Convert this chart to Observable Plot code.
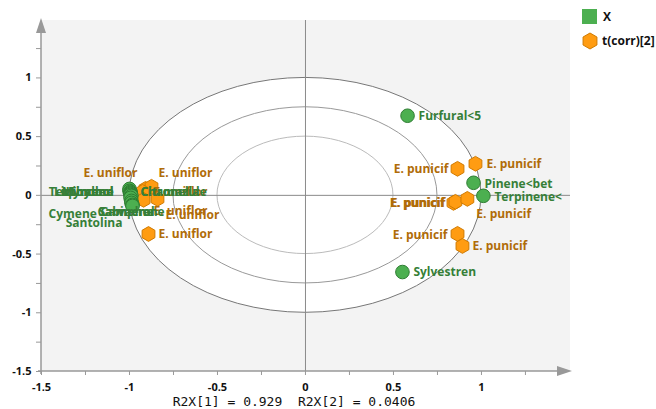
<!DOCTYPE html>
<html><head><meta charset="utf-8">
<script src="https://cdn.jsdelivr.net/npm/d3@7"></script>
<script src="https://cdn.jsdelivr.net/npm/@observablehq/plot@0.6"></script>
<style>
body{margin:0;background:#fff;}
#wrap{width:656px;height:409px;}
</style></head><body><div id="wrap"></div>
<script>
// ---------- data ----------
const varNames = ["Furfural<5","Pinene<bet","Terpinene<","Sylvestren",
  "Myrcene","Limonene","Linalool","Terpinolen","Thymol",
  "Citronella","Chamazule","Cymene","Carvacrol","Camphene","Sabinene","Santolina"];
const varX = [0.580,0.955,1.011,0.551,
  -1.000,-1.000,-0.994,-0.994,-0.994,
  -0.994,-0.989,-0.994,-0.989,-0.989,-0.983,-0.983];
const varY = [0.678,0.107,-0.004,-0.653,
  0.055,0.038,0.030,0.021,0.013,
  0.004,-0.004,-0.021,-0.047,-0.064,-0.081,-0.090];

const obsNames = ["E. uniflor","E. uniflor","E. uniflor","E. uniflor","E. uniflor","E. uniflor",
  "E. punicif","E. punicif","E. punicif","E. punicif","E. punicif","E. punicif","E. punicif"];
const obsX = [-0.909,-0.875,-0.926,-0.841,-0.920,-0.892,
  0.864,0.966,0.841,0.852,0.920,0.864,0.892];
const obsY = [0.055,0.073,0.030,-0.030,-0.038,-0.329,
  0.226,0.269,-0.064,-0.055,-0.030,-0.328,-0.431];

const xTicks = [-1.5,-1,-0.5,0,0.5,1];
const yTicks = [-1.5,-1,-0.5,0,0.5,1];
const xMinorTicks = [-1.25,-0.75,-0.25,0.25,0.75,1.25];
const yMinorTicks = [-1.25,-0.75,-0.25,0.25,0.75,1.25];
const ellipseRadii = [1, 0.75, 0.5];
const axisTitle = "R2X[1] = 0.929  R2X[2] = 0.0406";
const legendLabels = ["X","t(corr)[2]"];

// ---------- label placement (pixel offsets, anchor) ----------
const varLabelPlace = [[11,0,"start"],[11,1,"start"],[11,1,"start"],[11,0,"start"],
  [-16,3,"end"],[-16,1,"end"],[-17,0,"end"],[-17,-1,"end"],[-17,-2,"end"],
  [10,-3,"start"],[9,-4,"start"],[-82,16,"start"],[-34,11,"start"],[-31,9,"start"],[-34,7,"start"],[-10,17,"end"]];
const obsLabelPlace = [[-8,-16,"end"],[7,-14,"start"],[11,0,"start"],[8,16,"start"],[10,11,"start"],[10,0,"start"],
  [-9,0,"end"],[11,0,"start"],[-9,0,"end"],[-10,1,"end"],[9,15,"start"],[-10,1,"end"],[10,0,"start"]];

// ---------- style ----------
const FONT = "'Open Sans', 'Noto Sans', sans-serif";
const GREEN_FILL = "#4caf50", GREEN_STROKE = "#2e7d32", GREEN_TEXT = "#367f38";
const ORANGE_FILL = "#ff9c12", ORANGE_STROKE = "#d07a00", ORANGE_TEXT = "#b06c08";

function backdrop(index, scales, values, dims) {
  const {x, y} = scales;
  const L = dims.marginLeft, R = dims.width - dims.marginRight, T = dims.marginTop, B = dims.height - dims.marginBottom;
  const g = d3.create("svg:g");
  g.append("rect").attr("x", L).attr("y", T).attr("width", R - L).attr("height", B - T).attr("fill", "#f3f3f3");
  const strokes = ["#777", "#999", "#bbb"];
  ellipseRadii.forEach((r, i) => {
    g.append("ellipse").attr("cx", x(0)).attr("cy", y(0))
      .attr("rx", x(r) - x(0)).attr("ry", y(0) - y(r))
      .attr("fill", i === 0 ? "#fff" : "none").attr("stroke", strokes[i]).attr("stroke-width", 1);
  });
  return g.node();
}

function axisLines(index, scales, values, dims) {
  const L = dims.marginLeft, R = dims.width - dims.marginRight, T = dims.marginTop, B = dims.height - dims.marginBottom;
  const g = d3.create("svg:g").attr("fill", "#999").attr("stroke", "#999");
  g.append("line").attr("x1", L).attr("x2", L).attr("y1", B + 3).attr("y2", T + 10).attr("stroke-width", 1.5);
  g.append("line").attr("x1", L - 3).attr("x2", R - 10).attr("y1", B).attr("y2", B).attr("stroke-width", 1.5);
  g.append("path").attr("stroke", "none").attr("d", `M${L},${T - 2}L${L + 5},${T + 13}L${L - 5},${T + 13}Z`);
  g.append("path").attr("stroke", "none").attr("d", `M${R + 2},${B}L${R - 13},${B - 5}L${R - 13},${B + 5}Z`);
  return g.node();
}

function legend(index, scales, values, dims) {
  const lx = dims.width - dims.marginRight + 12;
  const g = d3.create("svg:g").attr("font-family", FONT).attr("font-weight", "bold").attr("font-size", 12)
    .attr("fill", "#111").attr("text-anchor", "start");
  g.append("rect").attr("x", lx).attr("y", 9).attr("width", 15).attr("height", 15).attr("fill", GREEN_FILL);
  g.append("text").attr("x", lx + 21).attr("y", 17).attr("dy", "0.35em").text(legendLabels[0]);
  const cx = lx + 8, cy = 41, r = 8, h = r * Math.sqrt(3) / 2;
  g.append("path").attr("d", `M${cx},${cy - r}L${cx + h},${cy - r / 2}L${cx + h},${cy + r / 2}L${cx},${cy + r}L${cx - h},${cy + r / 2}L${cx - h},${cy - r / 2}Z`)
    .attr("fill", ORANGE_FILL).attr("stroke", ORANGE_STROKE);
  g.append("text").attr("x", lx + 20).attr("y", cy).attr("dy", "0.35em").text(legendLabels[1]);
  return g.node();
}

const varIdx = varNames.map((_, i) => i);
const obsIdx = obsNames.map((_, i) => i);

const textCommon = {fontFamily: FONT, fontSize: 12, fontWeight: "bold"};
const obsLabelMarks = obsIdx.map(i => Plot.text([i], {
  x: d => obsX[d], y: d => obsY[d], text: d => obsNames[d],
  dx: obsLabelPlace[i][0], dy: obsLabelPlace[i][1], textAnchor: obsLabelPlace[i][2],
  fill: ORANGE_TEXT, ...textCommon
}));
const varLabelMarks = varIdx.map(i => Plot.text([i], {
  x: d => varX[d], y: d => varY[d], text: d => varNames[d],
  dx: varLabelPlace[i][0], dy: varLabelPlace[i][1], textAnchor: varLabelPlace[i][2],
  fill: GREEN_TEXT, ...textCommon
}));

const plot = Plot.plot({
  width: 656, height: 409,
  marginLeft: 41, marginRight: 86, marginTop: 20, marginBottom: 38,
  x: {domain: [-1.5, 1.506], label: null},
  y: {domain: [-1.5, 1.489], label: null},
  style: {background: "#fff", overflow: "visible", fontFamily: FONT},
  marks: [
    backdrop,
    Plot.ruleX([0], {stroke: "#8a8a8a"}),
    Plot.ruleY([0], {stroke: "#8a8a8a"}),
    axisLines,
    Plot.axisX(xMinorTicks.concat(xTicks), {tickSize: 4, tickFormat: () => "", color: "#999", label: null}),
    Plot.axisY(yMinorTicks.concat(yTicks), {tickSize: 5, tickFormat: () => "", color: "#999", label: null}),
    Plot.axisX(xTicks, {tickSize: 0, tickPadding: 12, tickFormat: d => String(d), color: "#111", fontSize: 11, fontWeight: "bold", label: null}),
    Plot.axisY(yTicks, {tickSize: 0, tickPadding: 10, tickFormat: d => String(d), color: "#111", fontSize: 11, fontWeight: "bold", label: null}),
    Plot.dot(obsIdx, {x: i => obsX[i], y: i => obsY[i], symbol: "hexagon", r: 6.4, fill: ORANGE_FILL, stroke: ORANGE_STROKE, strokeWidth: 1}),
    Plot.dot(varIdx, {x: i => varX[i], y: i => varY[i], r: 6.8, fill: GREEN_FILL, stroke: GREEN_STROKE, strokeWidth: 1}),
    ...obsLabelMarks,
    ...varLabelMarks,
    Plot.text([axisTitle], {frameAnchor: "bottom", dx: -12, dy: 30, fontFamily: "'DejaVu Sans Mono', monospace", fontSize: 13, fill: "#111", lineAnchor: "middle"}),
    legend
  ]
});
document.getElementById("wrap").appendChild(plot);
</script>
</body></html>
